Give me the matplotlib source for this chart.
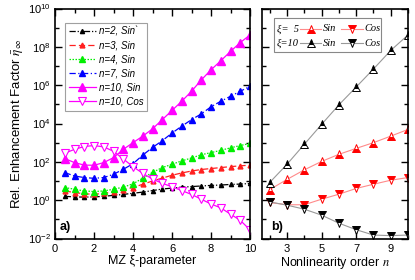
import numpy as np
import matplotlib
matplotlib.use("Agg")
import matplotlib.pyplot as plt
from matplotlib.ticker import FixedLocator, LogFormatterSciNotation, NullFormatter
from matplotlib.patches import Rectangle

plt.rcParams['font.family'] = ['Liberation Sans', 'DejaVu Sans']
plt.rcParams['mathtext.fontset'] = 'stix'

# panel a) : enhancement factor vs MZ xi-parameter (values are log10)
xi = [0.5, 1.0, 1.5, 2.0, 2.5, 3.0, 3.5, 4.0, 4.5, 5.0,
      5.5, 6.0, 6.5, 7.0, 7.5, 8.0, 8.5, 9.0, 9.5, 10.0]
n2_sin = [0.20, 0.17, 0.16, 0.17, 0.20, 0.25, 0.30, 0.36, 0.42, 0.50,
          0.58, 0.63, 0.68, 0.71, 0.74, 0.77, 0.79, 0.82, 0.84, 0.87]
n3_sin = [0.48, 0.40, 0.33, 0.31, 0.35, 0.44, 0.55, 0.66, 0.83, 1.00,
          1.15, 1.30, 1.42, 1.52, 1.60, 1.65, 1.70, 1.75, 1.79, 1.83]
n4_sin = [0.66, 0.57, 0.48, 0.45, 0.48, 0.57, 0.68, 0.85, 1.15, 1.45,
          1.70, 1.87, 2.05, 2.20, 2.37, 2.48, 2.60, 2.73, 2.85, 2.96]
n7_sin = [1.44, 1.26, 1.18, 1.14, 1.18, 1.35, 1.61, 1.90, 2.35, 2.75,
          3.10, 3.50, 3.86, 4.20, 4.50, 4.87, 5.16, 5.42, 5.68, 5.94]
n10_sin = [2.17, 1.96, 1.83, 1.82, 1.96, 2.22, 2.65, 3.00, 3.34, 3.72,
           4.20, 4.68, 5.16, 5.68, 6.27, 6.80, 7.27, 7.76, 8.22, 8.62]
n10_cos = [2.45, 2.65, 2.80, 2.85, 2.78, 2.55, 2.15, 1.75, 1.40, 1.10,
           0.88, 0.70, 0.50, 0.30, 0.05, -0.20, -0.40, -0.73, -1.05, -1.55]

# panel b) : enhancement factor vs nonlinearity order n (values are log10)
order = [2, 3, 4, 5, 6, 7, 8, 9, 10]
xi5_sin = [0.55, 1.08, 1.58, 2.02, 2.39, 2.70, 3.00, 3.34, 3.69]
xi5_cos = [-0.12, -0.24, -0.24, 0.05, 0.31, 0.61, 0.83, 1.04, 1.18]
xi10_sin = [0.92, 1.87, 2.91, 3.95, 4.97, 5.90, 6.84, 7.81, 8.62]
xi10_cos = [-0.09, -0.26, -0.47, -0.78, -1.20, -1.54, -1.82, -1.85, -1.82]

def lin(v):
    return 10.0 ** np.array(v)

fig = plt.figure(figsize=(4.15, 2.8), dpi=100)
ax1 = fig.add_axes([55 / 415, 41.5 / 280, 195 / 415, 230 / 280])
ax2 = fig.add_axes([261.7 / 415, 41.5 / 280, 146.3 / 415, 230 / 280])

lw = 0.9
ax1.plot(xi, lin(n2_sin), color='black', ls=(0, (5, 1.5, 1, 1.5, 1, 1.5)), lw=lw,
         marker='^', ms=3, label='n=2, Sin`')
ax1.plot(xi, lin(n3_sin), color='#ff2020', ls=(0, (5, 2.5)), lw=lw,
         marker='^', ms=3.5, label='n=3, Sin')
ax1.plot(xi, lin(n4_sin), color='#00ee00', ls=(0, (1.2, 1.2)), lw=lw,
         marker='^', ms=4, label='n=4, Sin')
ax1.plot(xi, lin(n7_sin), color='#0000ff', ls=(0, (5, 2, 1, 2)), lw=lw,
         marker='^', ms=5, label='n=7, Sin')
ax1.plot(xi, lin(n10_sin), color='#ff00ff', ls='-', lw=lw,
         marker='^', ms=6, label='n=10, Sin')
ax1.plot(xi, lin(n10_cos), color='#ff00ff', ls='-', lw=lw,
         marker='v', ms=6, mfc='white', mec='#ff00ff', mew=0.8, label='n=10, Cos')

gray = '#999999'
pink = '#ff8a8a'
styles = {
    'xi5_sin': dict(color=pink, marker='^', fillstyle='bottom', mfc='red', mec='red'),
    'xi5_cos': dict(color=pink, marker='v', fillstyle='top', mfc='red', mec='red'),
    'xi10_sin': dict(color=gray, marker='^', fillstyle='top', mfc='black', mec='black'),
    'xi10_cos': dict(color=gray, marker='v', fillstyle='top', mfc='black', mec='black'),
}
common = dict(lw=0.8, ms=5.5, mfcalt='white', mew=0.7)
ax2.plot(order, lin(xi5_sin), **styles['xi5_sin'], **common)
ax2.plot(order, lin(xi5_cos), **styles['xi5_cos'], **common)
ax2.plot(order, lin(xi10_sin), **styles['xi10_sin'], **common)
ax2.plot(order, lin(xi10_cos), **styles['xi10_cos'], **common)

major_y = [10.0 ** k for k in range(-2, 11, 2)]
minor_y = [10.0 ** k for k in range(-1, 10, 2)]
for ax in (ax1, ax2):
    ax.set_yscale('log')
    ax.set_ylim(1e-2, 1e10)
    ax.yaxis.set_major_locator(FixedLocator(major_y))
    ax.yaxis.set_minor_locator(FixedLocator(minor_y))
    ax.yaxis.set_minor_formatter(NullFormatter())
    ax.tick_params(which='both', direction='in', top=True, right=True,
                   width=1.0, labelsize=8)
    ax.tick_params(which='major', length=5)
    ax.tick_params(which='minor', length=3)
    for s in ax.spines.values():
        s.set_linewidth(1.2)

ax1.yaxis.set_major_formatter(LogFormatterSciNotation())
ax1.tick_params(axis='y', pad=3)
ax1.tick_params(axis='x', pad=4)
ax1.set_xlim(0, 10)
ax1.set_xticks([0, 2, 4, 6, 8, 10])
ax1.set_xticks([1, 3, 5, 7, 9], minor=True)
ax1.set_xlabel('MZ ξ-parameter', fontsize=9, labelpad=1)
ax1.set_ylabel(r'Rel. Enhancement Factor $\bar{\eta}_{\infty}$', fontsize=9.5, labelpad=2)

ax2.set_xlim(1.54, 10)
ax2.set_xticks([3, 5, 7, 9])
ax2.set_xticks([2, 4, 6, 8, 10], minor=True)
ax2.tick_params(axis='y', labelleft=False)
ax2.tick_params(axis='x', pad=4)
ax2.set_xlabel(r'Nonlinearity order $n$', fontsize=9, labelpad=1)

ax1.text(0.026, 0.037, 'a)', transform=ax1.transAxes, fontsize=9, fontweight='bold')
ax2.text(0.064, 0.037, 'b)', transform=ax2.transAxes, fontsize=9, fontweight='bold')

leg1 = ax1.legend(loc='upper left', bbox_to_anchor=(0.025, 0.96), numpoints=1,
                  handlelength=2.8, handletextpad=0.3, labelspacing=0.42,
                  borderpad=0.4, fancybox=False, edgecolor='#888888',
                  prop={'style': 'italic', 'size': 7})
leg1.get_frame().set_linewidth(0.8)

# right legend drawn by hand: "xi= 5 -^- Sin -v- Cos" / "xi=10 -^- Sin -v- Cos"
def px(x):
    return (x - 261.7) / 146.3

ax2.add_patch(Rectangle((px(274.3), 0.812), px(381) - px(274.3), 0.957 - 0.812,
                        transform=ax2.transAxes, fill=True, fc='white',
                        ec='#888888', lw=0.8, zorder=5, clip_on=False))
lfont = dict(family='Liberation Serif', style='italic', size=7.5)
rows = [(0.911, 'ξ=  5', 'xi5_sin', 'xi5_cos'), (0.850, 'ξ=10', 'xi10_sin', 'xi10_cos')]
for yy, lab, s_sin, s_cos in rows:
    ax2.text(px(277), yy, lab, transform=ax2.transAxes, va='center', ha='left',
             zorder=6, **lfont)
    for (x0, x1, key, txt) in [(300, 321, s_sin, 'Sin'), (340.5, 363, s_cos, 'Cos')]:
        st = dict(styles[key])
        ax2.plot([px(x0), px(x1)], [yy, yy], transform=ax2.transAxes, clip_on=False,
                 color=st['color'], lw=0.8, zorder=6)
        ax2.plot([px((x0 + x1) / 2)], [yy], transform=ax2.transAxes, clip_on=False,
                 ls='none', marker=st['marker'], fillstyle=st['fillstyle'],
                 mfc=st['mfc'], mec=st['mec'], ms=5.5, mfcalt='white', mew=0.7,
                 zorder=7)
        ax2.text(px(x1 + 1.5), yy, txt, transform=ax2.transAxes, va='center',
                 ha='left', zorder=6, **lfont)

fig.savefig('out.png', dpi=100)
